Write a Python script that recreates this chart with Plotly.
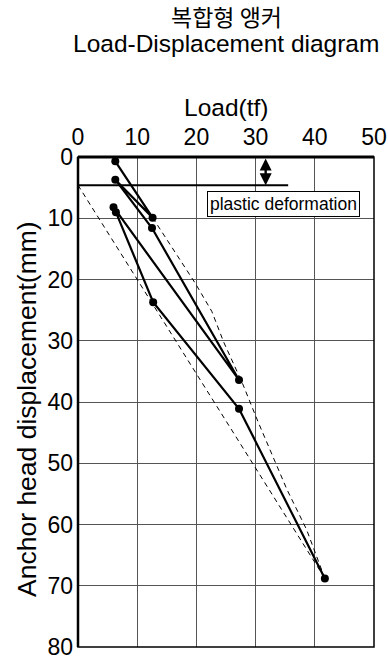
import plotly.graph_objects as go

# ---- data ----
x_ticks = [0, 10, 20, 30, 40, 50]
y_ticks = [0, 10, 20, 30, 40, 50, 60, 70, 80]

# measured load-displacement path (loading / unloading cycles)
load_meas = [6.3, 12.6, 6.3, 12.5, 27.2, 6.0, 6.4, 12.7, 27.2, 41.7]
disp_meas = [0.7, 9.9, 3.7, 11.6, 36.4, 8.2, 9.0, 23.7, 41.1, 68.8]

# dashed reference lines
load_ref1 = [0.0, 41.7]
disp_ref1 = [4.6, 68.8]
load_ref2 = [12.6, 16.0, 19.8, 22.6, 24.6, 27.8, 30.4, 35.3, 38.6, 41.7]
disp_ref2 = [9.9, 14.9, 20.6, 25.2, 30.2, 37.0, 43.2, 54.3, 60.8, 68.8]

# plastic deformation level
load_plastic = [0.0, 35.5]
disp_plastic = [4.6, 4.6]
arrow_load = 31.7
plastic_label = "plastic deformation"
label_pos = (34.7, 7.7)

title_ko = "복합형 앵커"
title_en = "Load-Displacement diagram"
x_title = "Load(tf)"
y_title = "Anchor head displacement(mm)"

FONT = "Liberation Sans, Arial, Noto Sans CJK KR, sans-serif"

fig = go.Figure()
fig.add_trace(go.Scatter(x=load_ref1, y=disp_ref1, mode="lines",
                         line=dict(color="black", width=1, dash="5px,4px"),
                         hoverinfo="skip"))
fig.add_trace(go.Scatter(x=load_ref2, y=disp_ref2, mode="lines",
                         line=dict(color="black", width=1, dash="5px,4px"),
                         hoverinfo="skip"))
fig.add_trace(go.Scatter(x=load_plastic, y=disp_plastic, mode="lines",
                         line=dict(color="black", width=2), hoverinfo="skip"))
fig.add_trace(go.Scatter(x=load_meas, y=disp_meas, mode="lines+markers",
                         line=dict(color="black", width=2.2),
                         marker=dict(color="black", size=8)))

# double-headed arrow for plastic deformation
fig.add_annotation(x=arrow_load, y=disp_plastic[0], ax=arrow_load, ay=0,
                   xref="x", yref="y", axref="x", ayref="y", text="",
                   showarrow=True, arrowhead=2, startarrowhead=2,
                   arrowside="end+start", arrowsize=1.0, startarrowsize=1.0,
                   arrowwidth=2.4, arrowcolor="black", standoff=0, startstandoff=0)
fig.add_annotation(x=label_pos[0], y=label_pos[1], xref="x", yref="y",
                   text=plastic_label, showarrow=False,
                   font=dict(family=FONT, size=17.5, color="black"),
                   bordercolor="black", borderwidth=1, borderpad=2,
                   bgcolor="white")

# titles (placed relative to the plot area)
fig.add_annotation(x=0.5, y=1.2877, xref="paper", yref="paper", text=title_ko,
                   showarrow=False, yanchor="middle",
                   font=dict(family="Noto Sans CJK KR, sans-serif", size=23, color="black"))
fig.add_annotation(x=0.5, y=1.2317, xref="paper", yref="paper", text=title_en,
                   showarrow=False, yanchor="middle",
                   font=dict(family=FONT, size=24.5, color="black"))
fig.add_annotation(x=0.5, y=1.102, xref="paper", yref="paper", text=x_title,
                   showarrow=False, yanchor="middle",
                   font=dict(family=FONT, size=24.5, color="black"))
fig.add_annotation(x=-0.172, y=0.486, xref="paper", yref="paper", text=y_title,
                   showarrow=False, textangle=-90, xanchor="center", yanchor="middle",
                   font=dict(family=FONT, size=26.5, color="black"))

# frame
fig.add_shape(type="rect", xref="paper", yref="paper", x0=0, x1=1, y0=0, y1=1,
              line=dict(color="black", width=1.5))
fig.add_shape(type="line", xref="paper", yref="paper", x0=0, x1=1, y0=1, y1=1,
              line=dict(color="black", width=3))
fig.add_shape(type="line", xref="paper", yref="paper", x0=0, x1=0, y0=0, y1=1,
              line=dict(color="black", width=2.5))

fig.update_layout(
    width=388, height=657,
    margin=dict(l=78, r=14, t=157, b=10, autoexpand=False),
    plot_bgcolor="white", paper_bgcolor="white",
    showlegend=False,
    font=dict(family=FONT, color="black"),
    xaxis=dict(side="top", range=[0, 50], tickvals=x_ticks,
               ticktext=[str(v) for v in x_ticks], automargin=False,
               showgrid=True, gridcolor="#555", gridwidth=1, zeroline=False,
               ticks="", tickfont=dict(size=23), ticklabelstandoff=6,
               ticklabeloverflow="allow"),
    yaxis=dict(range=[80, 0], tickvals=y_ticks,
               ticktext=[str(v) for v in y_ticks], automargin=False,
               showgrid=True, gridcolor="#555", gridwidth=1, zeroline=False,
               ticks="", tickfont=dict(size=23), ticklabelstandoff=4,
               ticklabeloverflow="allow"),
)

fig.write_html("out.html", config={"displayModeBar": False},
               post_script="document.body.style.margin='0';"
                           "document.body.style.overflow='hidden';")
